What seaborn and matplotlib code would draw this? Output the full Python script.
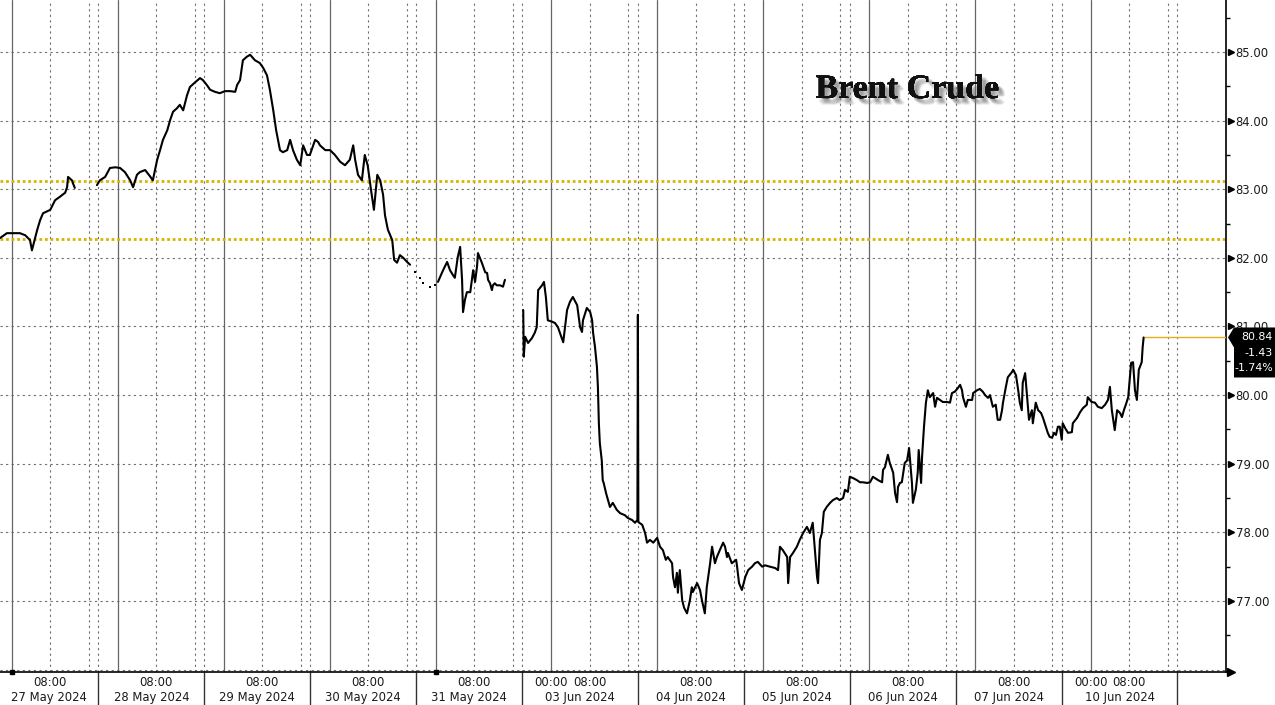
import matplotlib
matplotlib.use("Agg")
import matplotlib.pyplot as plt
import matplotlib.patheffects as pe
from matplotlib.patches import Polygon
from matplotlib.transforms import blended_transform_factory
import numpy as np
import pandas as pd
import seaborn as sns

# -------------------------------------------------------------------
# Data: ICE Brent, intraday, 27 May - 10 Jun 2024
# x = trading hours since 27 May 2024 00:00 New York time
# (18:00-20:00 daily break and weekends squeezed out)
# -------------------------------------------------------------------

day_labels = ["27 May 2024", "28 May 2024", "29 May 2024", "30 May 2024",
              "31 May 2024", "03 Jun 2024", "04 Jun 2024", "05 Jun 2024",
              "06 Jun 2024", "07 Jun 2024", "10 Jun 2024"]
day_midnight = [0, 22, 44, 66, 88, 112, 134, 156, 178, 200, 224]
is_monday = [True, False, False, False, False, True, False, False, False, False, True]
hour_labels = [[8], [8], [8], [8], [8], [0, 8], [8], [8], [8], [8], [0, 8]]

may27_hours = [-2.4, -1.0, 1.7, 2.8, 3.8, 4.2, 5.3, 5.9, 6.5, 8.0,
               9.0, 10.0, 11.1, 11.5, 11.7, 12.5, 12.7, 13.1]
may27_price = [82.29, 82.36, 82.36, 82.33, 82.26, 82.11, 82.41, 82.55, 82.65, 82.70,
               82.84, 82.89, 82.95, 83.03, 83.18, 83.13, 83.09, 83.02]

may28_30_hours = [17.7, 18.3, 19.4, 20.4, 21.5, 22.5, 23.5, 24.6, 25.2, 26.0,
                  26.6, 27.7, 28.7, 29.3, 30.2, 30.8, 31.4, 32.3, 32.9, 33.5,
                  34.3, 34.9, 35.6, 36.4, 37.0, 38.1, 39.1, 39.7, 40.5, 41.2,
                  42.2, 43.2, 44.3, 45.3, 46.4, 46.8, 47.4, 48.0, 48.8, 49.5,
                  50.5, 51.5, 52.2, 53.0, 53.6, 54.3, 54.9, 55.7, 56.3, 57.2,
                  57.8, 58.4, 59.2, 59.9, 60.5, 61.3, 61.9, 63.0, 63.6, 64.0,
                  65.1, 66.1, 67.1, 68.2, 69.2, 70.2, 70.9, 71.3, 71.9, 72.7,
                  73.3, 73.9, 74.6, 75.2, 75.9, 76.5, 77.1, 77.5, 78.1, 79.0,
                  79.4, 80.0, 80.6, 81.3, 82.1, 82.7]
may28_30_price = [83.06, 83.13, 83.18, 83.31, 83.32, 83.31, 83.25, 83.13, 83.03, 83.21,
                  83.25, 83.28, 83.19, 83.13, 83.43, 83.57, 83.72, 83.86, 84.01, 84.13,
                  84.18, 84.23, 84.15, 84.37, 84.49, 84.56, 84.62, 84.59, 84.52, 84.45,
                  84.42, 84.40, 84.43, 84.43, 84.42, 84.52, 84.59, 84.88, 84.93, 84.96,
                  84.88, 84.84, 84.77, 84.66, 84.45, 84.15, 83.86, 83.57, 83.54, 83.57,
                  83.72, 83.57, 83.43, 83.35, 83.64, 83.50, 83.50, 83.72, 83.69, 83.64,
                  83.57, 83.57, 83.50, 83.40, 83.35, 83.43, 83.64, 83.43, 83.21, 83.13,
                  83.50, 83.35, 82.99, 82.70, 83.21, 83.13, 82.92, 82.62, 82.41, 82.26,
                  81.97, 81.93, 82.04, 82.00, 81.94, 81.90]

# thin overnight trades, 31 May early hours
sparse_hours = [83.7, 84.8, 85.4, 86.8, 87.9]
sparse_price = [81.80, 81.71, 81.63, 81.58, 81.60]

may31_hours = [88.5, 89.3, 89.9, 90.4, 91.0, 91.6, 92.0, 92.6, 93.1, 93.5,
               93.7, 94.1, 94.5, 95.2, 95.8, 96.2, 96.6, 96.8, 97.2, 97.6,
               98.3, 98.7, 98.9, 99.3, 99.7, 99.9, 100.3, 100.7, 101.4, 102.0,
               102.4]
may31_price = [81.65, 81.78, 81.87, 81.94, 81.82, 81.75, 81.71, 82.01, 82.16, 81.68,
               81.21, 81.39, 81.50, 81.50, 81.82, 81.65, 81.87, 82.07, 82.00, 81.93,
               81.79, 81.78, 81.68, 81.63, 81.53, 81.60, 81.63, 81.60, 81.60, 81.58,
               81.68]

jun03_04_hours = [106.2, 106.3, 106.6, 107.2, 108.0, 108.6, 109.0, 109.3, 110.1, 110.5,
                  110.9, 111.3, 112.2, 112.8, 113.4, 113.8, 114.5, 115.3, 115.9, 116.5,
                  117.4, 118.0, 118.4, 118.6, 119.4, 120.1, 120.5, 120.7, 121.1, 121.5,
                  121.7, 121.9, 122.1, 122.5, 122.7, 122.9, 123.4, 123.8, 124.2, 124.8,
                  125.6, 126.3, 127.3, 127.9, 128.8, 129.4, 129.9, 130.0, 130.1, 130.9,
                  131.5, 131.9, 132.5, 133.2, 134.0, 134.6, 135.2, 135.8, 136.2, 137.1,
                  137.3, 137.7, 138.1, 138.3, 138.7, 139.2, 139.6, 140.2, 140.8, 141.2,
                  141.4, 142.3, 142.9, 143.3, 143.9, 144.3, 145.0, 145.4, 146.0, 146.4,
                  147.0, 147.7, 148.1, 148.5, 148.7, 149.5, 150.4, 150.6, 151.0, 151.6]
jun03_04_price = [81.24, 80.56, 80.85, 80.76, 80.83, 80.91, 80.99, 81.53, 81.60, 81.65,
                  81.43, 81.09, 81.07, 81.05, 80.99, 80.91, 80.77, 81.24, 81.36, 81.43,
                  81.31, 80.99, 80.92, 81.09, 81.27, 81.21, 81.09, 80.91, 80.70, 80.41,
                  80.12, 79.59, 79.30, 79.05, 78.76, 78.72, 78.57, 78.47, 78.37, 78.43,
                  78.33, 78.28, 78.25, 78.21, 78.18, 78.14, 78.18, 81.17, 78.15, 78.11,
                  77.99, 77.85, 77.89, 77.85, 77.92, 77.79, 77.74, 77.60, 77.64, 77.55,
                  77.35, 77.20, 77.41, 77.12, 77.45, 77.01, 76.90, 76.82, 77.01, 77.20,
                  77.13, 77.26, 77.16, 77.01, 76.82, 77.20, 77.55, 77.79, 77.55, 77.64,
                  77.74, 77.85, 77.79, 77.64, 77.70, 77.55, 77.60, 77.50, 77.26, 77.16]

jun05_07_hours = [152.3, 152.9, 153.7, 154.3, 154.9, 155.8, 156.4, 157.4, 158.5, 159.1,
                  159.5, 160.1, 161.0, 161.2, 161.6, 162.2, 163.0, 163.6, 164.3, 165.1,
                  165.7, 166.3, 167.2, 167.4, 167.8, 168.2, 168.6, 169.2, 169.9, 170.5,
                  171.3, 171.9, 172.6, 173.0, 173.6, 174.0, 174.7, 175.5, 176.1, 176.7,
                  177.6, 178.2, 178.8, 179.9, 180.7, 180.9, 181.3, 181.9, 182.3, 183.0,
                  183.4, 183.8, 184.0, 184.4, 184.8, 185.4, 185.9, 186.3, 186.9, 187.1,
                  187.7, 188.1, 188.3, 188.8, 189.0, 189.4, 189.8, 190.2, 190.6, 191.3,
                  191.7, 192.1, 192.7, 193.3, 194.2, 194.8, 195.2, 195.8, 196.4, 196.9,
                  197.3, 197.5, 198.1, 198.5, 199.4, 199.6, 200.4, 201.0, 201.6, 202.1,
                  202.7, 203.1, 203.5, 203.7, 204.3, 204.7, 205.2, 205.6, 205.8, 206.4,
                  206.8, 207.7, 207.9, 208.5, 208.9, 209.3, 209.7, 209.9, 210.4, 210.8,
                  211.2, 211.8, 212.0, 212.6, 213.1, 213.7, 214.1, 214.7, 215.1, 215.5,
                  216.0, 216.4, 216.8, 217.2, 217.6]
jun05_07_price = [77.35, 77.45, 77.50, 77.55, 77.57, 77.50, 77.52, 77.50, 77.48, 77.45,
                  77.79, 77.74, 77.64, 77.26, 77.64, 77.70, 77.79, 77.89, 77.99, 78.08,
                  77.99, 78.14, 77.35, 77.26, 77.89, 77.99, 78.30, 78.37, 78.43, 78.47,
                  78.50, 78.47, 78.50, 78.62, 78.59, 78.81, 78.79, 78.76, 78.73, 78.73,
                  78.72, 78.73, 78.81, 78.76, 78.73, 78.91, 78.95, 79.13, 79.01, 78.87,
                  78.57, 78.44, 78.66, 78.72, 78.73, 79.01, 79.05, 79.23, 78.72, 78.43,
                  78.62, 78.87, 79.20, 78.72, 79.10, 79.54, 79.89, 80.07, 79.97, 80.03,
                  79.83, 79.96, 79.93, 79.90, 79.90, 79.89, 80.03, 80.05, 80.10, 80.15,
                  80.07, 79.97, 79.83, 79.93, 79.93, 80.03, 80.07, 80.09, 80.05, 80.00,
                  79.96, 80.00, 79.89, 79.83, 79.86, 79.64, 79.64, 79.78, 79.89, 80.12,
                  80.26, 80.34, 80.37, 80.29, 80.10, 79.89, 79.78, 80.18, 80.32, 79.97,
                  79.64, 79.78, 79.59, 79.89, 79.78, 79.74, 79.67, 79.54, 79.45, 79.39,
                  79.38, 79.45, 79.42, 79.54, 79.54]

jun10_hours = [218.0, 218.2, 218.7, 219.3, 220.1, 220.3, 221.2, 221.8, 222.4, 223.2,
               223.4, 224.2, 224.9, 225.5, 226.3, 227.0, 227.6, 228.0, 228.4, 229.0,
               229.5, 230.1, 230.5, 230.9, 231.3, 231.8, 232.4, 232.8, 233.2, 233.6,
               234.0, 234.6, 234.8, 235.0]
jun10_price = [79.35, 79.59, 79.52, 79.45, 79.46, 79.59, 79.67, 79.75, 79.81, 79.86,
               79.97, 79.90, 79.89, 79.83, 79.81, 79.86, 79.93, 80.12, 79.78, 79.49,
               79.78, 79.74, 79.68, 79.78, 79.86, 79.97, 80.47, 80.48, 80.07, 79.93,
               80.37, 80.48, 80.70, 80.84]

last_price = 80.84
net_change = -1.43
pct_change = -1.74
ref_levels = [83.12, 82.28]

# -------------------------------------------------------------------
# Figure
# -------------------------------------------------------------------

sns.set_style("white")
plt.rcParams["font.family"] = ["DejaVu Sans"]

W, H = 1275, 705
fig = plt.figure(figsize=(W / 100, H / 100), dpi=100)
ax = fig.add_axes([0, 33 / H, 1226 / W, 672 / H])

x_left, x_right = -2.43, 252.1
y_low, y_high = 75.965, 85.758
ax.set_xlim(x_left, x_right)
ax.set_ylim(y_low, y_high)

grid_kw = dict(color="#6f6f6f", lw=0.8, ls=(0, (2, 3)), zorder=1)

# horizontal grid
for lvl in range(76, 86):
    ax.axhline(lvl, **grid_kw)

# vertical grid: solid at midnight, dotted at 08:00, 16:00 and session end
for d in day_midnight:
    ax.axvline(d, color="#666666", lw=0.9, zorder=1)
    for h in (8, 16, 18):
        ax.axvline(d + h, **grid_kw)

# previous close / reference levels
for lvl in ref_levels:
    ax.axhline(lvl, color="#d6b400", lw=2.0, ls=(0, (1, 1)), zorder=2)

# price line
june_hours = jun03_04_hours + jun05_07_hours + jun10_hours
june_price = jun03_04_price + jun05_07_price + jun10_price
segments = [(may27_hours, may27_price), (may28_30_hours, may28_30_price),
            (may31_hours, may31_price), (june_hours, june_price)]
for hrs, px in segments:
    df = pd.DataFrame({"hours": hrs, "price": px})
    sns.lineplot(data=df, x="hours", y="price", sort=False, estimator=None,
                 color="black", lw=1.5, ax=ax, zorder=4)

sns.scatterplot(x=sparse_hours, y=sparse_price, marker="s", s=4, color="black",
                linewidth=0, ax=ax, zorder=4)

# last price line to the right edge
ax.hlines(last_price, june_hours[-1], x_right, color="#e0b21a", lw=1.0, zorder=3)

ax.set_xlabel("")
ax.set_ylabel("")

# spines
for side in ("top", "left"):
    ax.spines[side].set_visible(False)
for side in ("right", "bottom"):
    ax.spines[side].set_color("black")
    ax.spines[side].set_linewidth(1.2)

# y axis on the right
ax.yaxis.tick_right()
yt = np.arange(77, 86)
ax.set_yticks(yt)
ax.set_yticklabels([f"{v:.2f}" for v in yt])
ax.set_yticks(np.arange(76.5, 86, 1), minor=True)
ax.tick_params(axis="y", which="major", length=0, pad=7, labelsize=8.4,
               labelcolor="#1a1a1a")
ax.tick_params(axis="y", which="minor", length=3, width=1, color="black",
               direction="out")
ytrans = blended_transform_factory(ax.transAxes, ax.transData)
ax.plot(np.full(len(yt), 1.004), yt, marker=">", ms=4.5, ls="none",
        color="black", transform=ytrans, clip_on=False, zorder=6)

# x axis: 4-hour tick marks, labels drawn by hand
ticks = []
for d in day_midnight:
    ticks += [d + h for h in (-4, 0, 4, 8, 12, 16)]
ticks = [t for t in ticks if x_left < t < x_right]
ax.set_xticks(ticks)
ax.set_xticklabels([])
ax.tick_params(axis="x", length=3, width=1, color="black", direction="out")

xtrans = blended_transform_factory(ax.transData, ax.transAxes)
for d, mon, lab, hrs in zip(day_midnight, is_monday, day_labels, hour_labels):
    start = d - (6 if mon else 4)
    end = d + 18
    ax.vlines(end, 0, -33 / 672, color="#333333", lw=1.0,
              transform=xtrans, clip_on=False)
    for h in hrs:
        ax.text(d + h, -10.5 / 672, f"{h:02d}:00", transform=xtrans,
                ha="center", va="center", fontsize=8.4, color="#1a1a1a")
    mid = (max(start, x_left) + min(end, x_right)) / 2
    ax.text(mid, -26 / 672, lab, transform=xtrans, ha="center", va="center",
            fontsize=8.4, color="#1a1a1a")

# event squares on the axis
ax.plot([day_midnight[0], day_midnight[4]], [y_low, y_low], marker="s", ms=3,
        ls="none", color="black", clip_on=False, zorder=6)
# arrow at the end of the time axis
ax.plot([1.004], [0.0], marker=">", ms=6, color="black",
        transform=ax.transAxes, clip_on=False, zorder=6)

# title with a soft drop shadow
shadow = [pe.withSimplePatchShadow(offset=(ox, oy), shadow_rgbFace="#7a7a7a",
                                   alpha=0.13)
          for ox, oy in [(2, -2), (3, -3), (4, -4), (3, -2), (2, -3), (4, -3),
                         (3, -4), (5, -4), (4, -5)]]
ax.text(907 / 1226, 1 - 98 / 672, "Brent Crude", transform=ax.transAxes,
        ha="center", va="baseline", fontsize=24.5, fontweight="bold",
        family=["Liberation Serif", "DejaVu Serif"], color="#111111", zorder=7,
        path_effects=shadow + [pe.Normal()])

# last price box
fig.canvas.draw()
tx, ty = ytrans.transform((1.0, last_price))
fx, fy = tx / W, ty / H
dx, dy = 1 / W, 1 / H
box = Polygon([(fx + 2 * dx, fy), (fx + 8 * dx, fy + 10 * dy),
               (fx + 49 * dx, fy + 10 * dy), (fx + 49 * dx, fy - 40 * dy),
               (fx + 8 * dx, fy - 40 * dy), (fx + 8 * dx, fy - 10 * dy)],
              closed=True, transform=fig.transFigure, fc="black", ec="none",
              zorder=10)
fig.add_artist(box)
box_lines = [f"{last_price:.2f}", f"{net_change:.2f}", f"{pct_change:.2f}%"]
for i, s in enumerate(box_lines):
    fig.text(fx + 47 * dx, fy - (i * 15.5) * dy, s, ha="right", va="center",
             fontsize=7.9, color="white", zorder=11)

fig.savefig("out.png", dpi=100, facecolor="white")
